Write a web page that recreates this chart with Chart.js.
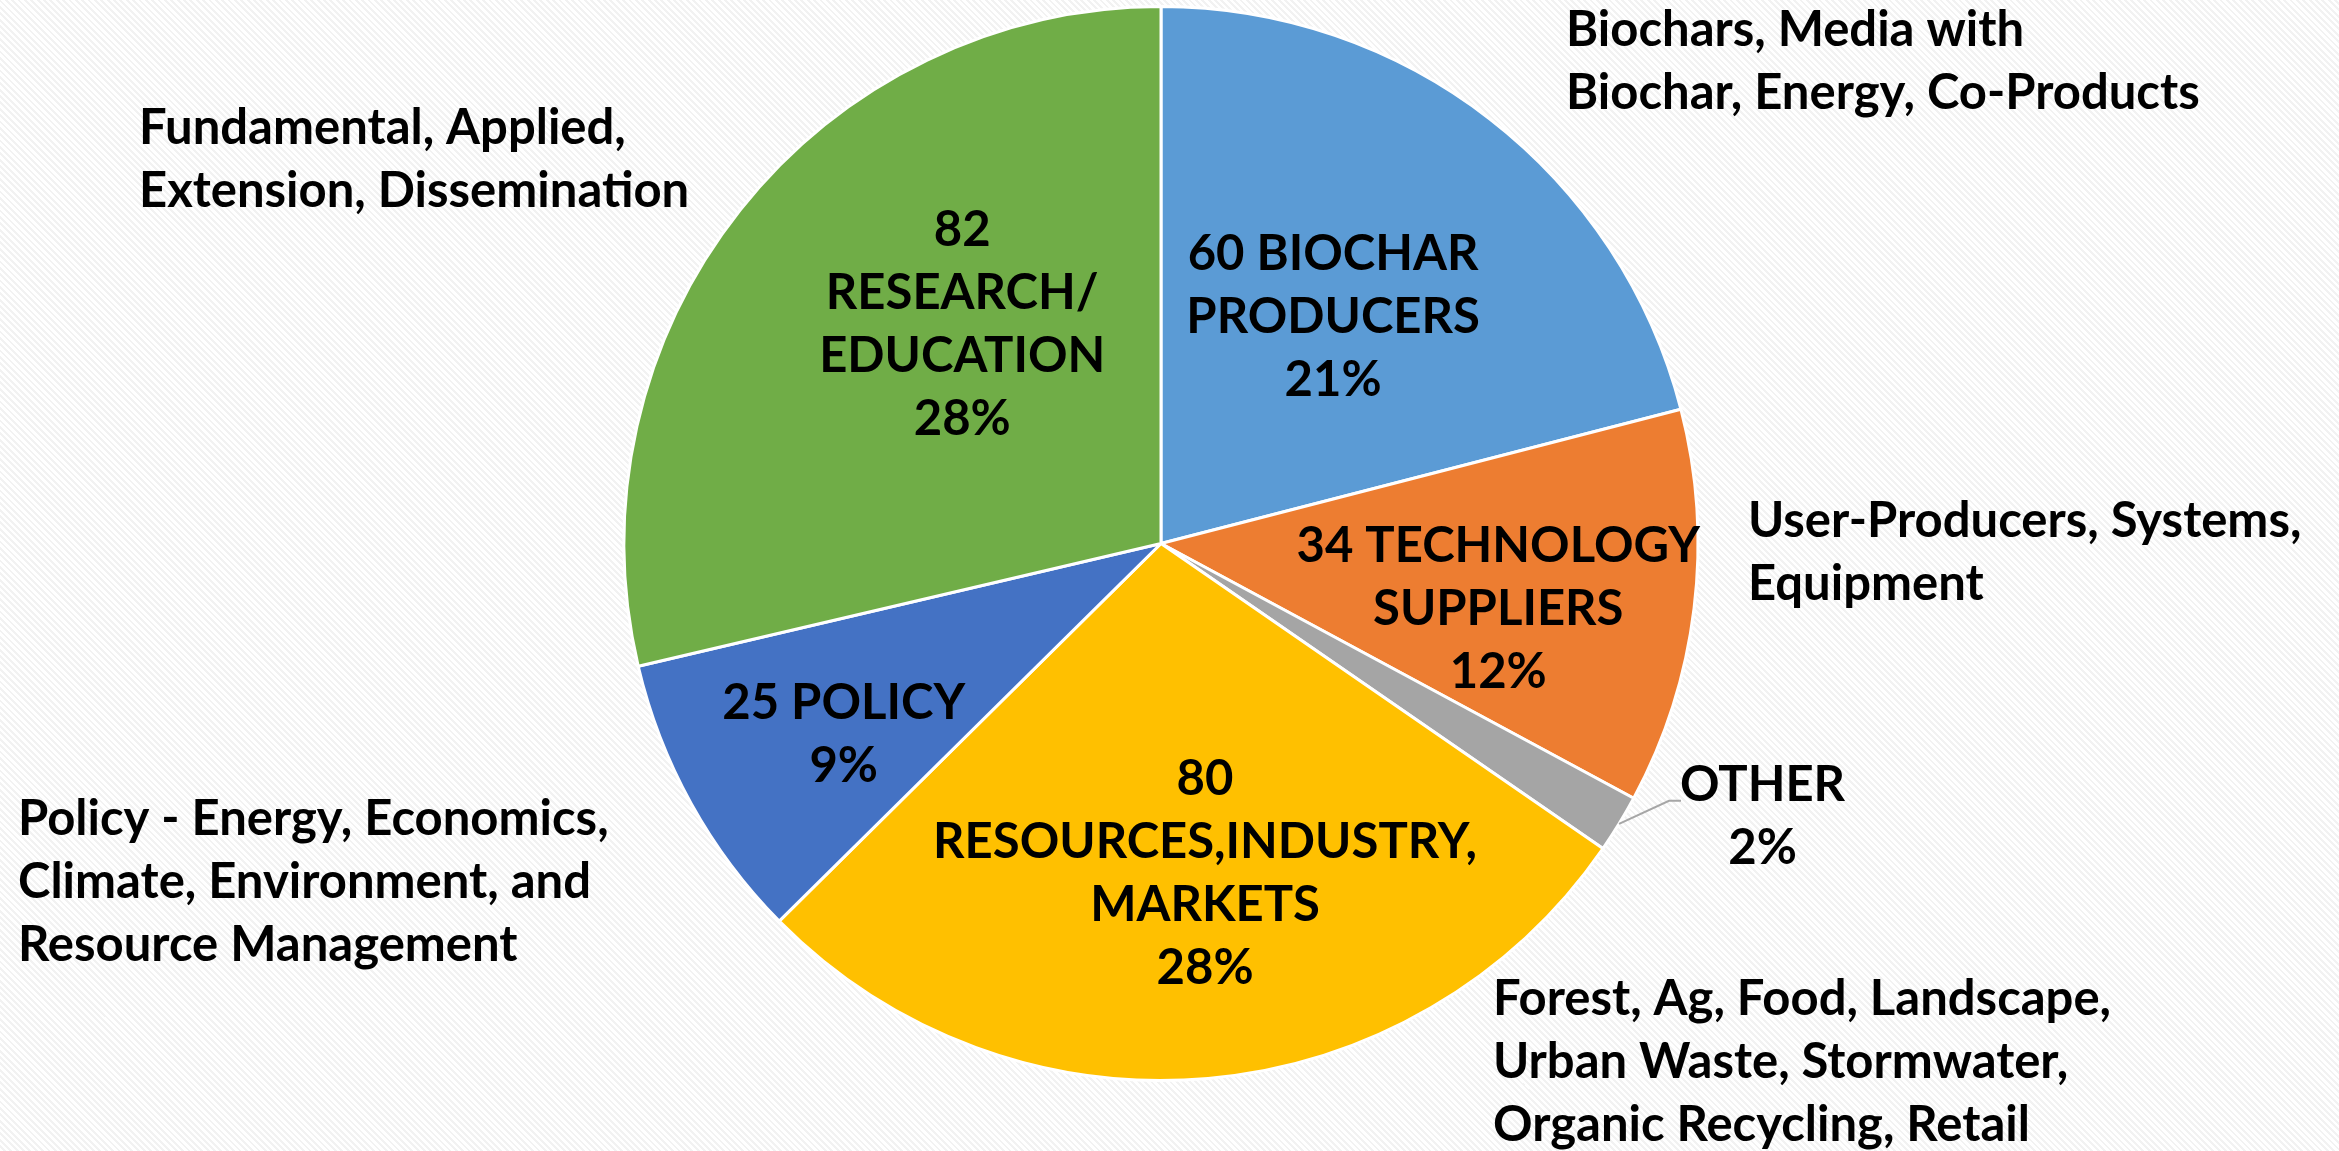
<!DOCTYPE html>
<html>
<head>
<meta charset="utf-8">
<script src="https://cdn.jsdelivr.net/npm/chart.js@4.4.1/dist/chart.umd.min.js"></script>
<style>
    html, body {
        margin: 0;
        padding: 0;
        width: 2339px;
        height: 1151px;
        overflow: hidden;
        background: repeating-linear-gradient(45deg, #ffffff 0px, #ffffff 2.5px, #f2f2f2 2.5px, #f2f2f2 4.5px);
    }
    #wrap {
        position: relative;
        width: 2339px;
        height: 1151px;
    }
</style>
</head>
<body>
<div id="wrap"><canvas id="pieChart"></canvas></div>
<script>
// slices, clockwise from 12 o'clock
const counts = [60, 34, 5, 80, 25, 82];
const categories = ['BIOCHAR PRODUCERS', 'TECHNOLOGY SUPPLIERS', 'OTHER', 'RESOURCES,INDUSTRY, MARKETS', 'POLICY', 'RESEARCH/ EDUCATION'];
const percentLabels = ['21%', '12%', '2%', '28%', '9%', '28%'];
const sliceColors = ['#5B9BD5', '#ED7D31', '#A5A5A5', '#FFC000', '#4472C4', '#70AD47'];

// lines of each data label, as printed on the slide
const labelLines = [
    ['60 BIOCHAR', 'PRODUCERS', percentLabels[0]],
    ['34 TECHNOLOGY', 'SUPPLIERS', percentLabels[1]],
    ['OTHER', percentLabels[2]],
    ['80', 'RESOURCES,INDUSTRY,', 'MARKETS', percentLabels[3]],
    ['25 POLICY', percentLabels[4]],
    ['82', 'RESEARCH/', 'EDUCATION', percentLabels[5]]
];

// free text notes around the pie
const notes = [
    ['Biochars, Media with', 'Biochar, Energy, Co-Products'],
    ['User-Producers, Systems,', 'Equipment'],
    ['Forest, Ag, Food, Landscape,', 'Urban Waste, Stormwater,', 'Organic Recycling, Retail'],
    ['Policy - Energy, Economics,', 'Climate, Environment, and', 'Resource Management'],
    ['Fundamental, Applied,', 'Extension, Dissemination']
];

const FONT = 'bold 49px Lato';
const LINE = 63;

// label anchor: [angle from top clockwise in deg, fraction of radius]
const labelAnchor = [[37.2, 0.53], [101.1, 0.64], [114.4, 1.23], [172.4, 0.62], [238.9, 0.69], [317.7, 0.55]];
// note positions (left edge, first line centre)
const notePos = [[1566, 30], [1748, 521], [1493, 999], [18, 819], [139, 128]];

const labelPlugin = {
    id: 'sliceLabels',
    afterDatasetsDraw(chart) {
        const ctx = chart.ctx;
        const arcs = chart.getDatasetMeta(0).data;
        ctx.save();
        ctx.font = FONT;
        ctx.fillStyle = '#000000';
        ctx.textBaseline = 'middle';

        arcs.forEach((arc, i) => {
            const a = labelAnchor[i][0] * Math.PI / 180;
            const r = arc.outerRadius * labelAnchor[i][1];
            const cx = arc.x + Math.sin(a) * r;
            const cy = arc.y - Math.cos(a) * r;
            const lines = labelLines[i];
            const top = cy - (lines.length - 1) * LINE / 2;
            ctx.textAlign = 'center';
            lines.forEach((t, k) => ctx.fillText(t, cx, top + k * LINE));

            // leader line for the small slice
            if (i === 2) {
                const mid = (arc.startAngle + arc.endAngle) / 2;
                const sx = arc.x + Math.cos(mid) * arc.outerRadius;
                const sy = arc.y + Math.sin(mid) * arc.outerRadius;
                ctx.strokeStyle = '#A6A6A6';
                ctx.lineWidth = 2;
                ctx.beginPath();
                ctx.moveTo(sx, sy);
                ctx.lineTo(sx + 50, top + 16);
                ctx.lineTo(sx + 62, top + 16);
                ctx.stroke();
            }
        });

        ctx.textAlign = 'left';
        notes.forEach((lines, i) => {
            lines.forEach((t, k) => ctx.fillText(t, notePos[i][0], notePos[i][1] + k * LINE));
        });
        ctx.restore();
    }
};

new Chart(document.querySelector('#pieChart'), {
    type: 'pie',
    data: {
        labels: categories,
        datasets: [{
            data: counts,
            backgroundColor: sliceColors,
            borderColor: '#ffffff',
            borderWidth: 3
        }]
    },
    options: {
        responsive: true,
        maintainAspectRatio: false,
        animation: false,
        layout: {
            padding: { left: 0, right: 17, top: 5, bottom: 69 }
        },
        plugins: {
            legend: { display: false },
            tooltip: { enabled: false }
        }
    },
    plugins: [labelPlugin]
});
</script>
</body>
</html>
